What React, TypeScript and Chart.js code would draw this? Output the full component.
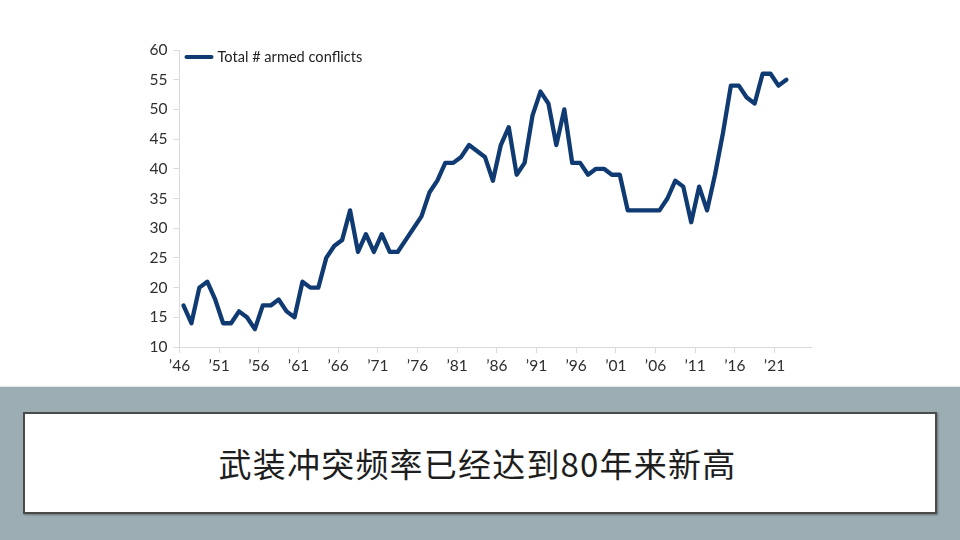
import React, { useEffect, useRef } from "react";
import { Chart, registerables } from "chart.js";

Chart.register(...registerables);

// Annual count of armed conflicts, 1946–2022
const startYear = 1946;
const conflicts = [
  17, 14, 20, 21, 18, 14, 14, 16, 15, 13, // 1946–1955
  17, 17, 18, 16, 15, 21, 20, 20, 25, 27, // 1956–1965
  28, 33, 26, 29, 26, 29, 26, 26, 28, 30, // 1966–1975
  32, 36, 38, 41, 41, 42, 44, 43, 42, 38, // 1976–1985
  44, 47, 39, 41, 49, 53, 51, 44, 50, 41, // 1986–1995
  41, 39, 40, 40, 39, 39, 33, 33, 33, 33, // 1996–2005
  33, 35, 38, 37, 31, 37, 33, 39, 46, 54, // 2006–2015
  54, 52, 51, 56, 56, 54, 55,             // 2016–2022
];
const years = conflicts.map((_, i) => startYear + i);
const seriesLabel = "Total # armed conflicts";
const headline = "武装冲突频率已经达到80年来新高";

// x axis spans yearly slots from '46 to just before '26
const axisSpan = 79.6;
const tickYears = [1946, 1951, 1956, 1961, 1966, 1971, 1976, 1981, 1986, 1991, 1996, 2001, 2006, 2011, 2016, 2021];

const lineColor = "#0f3a72";
const axisColor = "#d9d9d9";
const labelColor = "#2e2e2e";
const tickFont = { family: "Lato, 'Noto Sans', sans-serif", size: 15.5 };

const insideLegend = {
  id: "insideLegend",
  afterDraw(chart: any) {
    const { ctx, chartArea } = chart;
    const ds = chart.data.datasets[0];
    const x0 = chartArea.left + 7;
    const y = chartArea.top + 7;
    ctx.save();
    ctx.strokeStyle = ds.borderColor;
    ctx.lineWidth = 4;
    ctx.lineCap = "round";
    ctx.beginPath();
    ctx.moveTo(x0, y);
    ctx.lineTo(x0 + 25, y);
    ctx.stroke();
    ctx.fillStyle = "#222222";
    ctx.font = "14.6px Lato, 'Noto Sans', sans-serif";
    ctx.textBaseline = "middle";
    ctx.textAlign = "left";
    ctx.fillText(ds.label, x0 + 31, y);
    ctx.restore();
  },
};

function ConflictChart() {
  const ref = useRef<HTMLCanvasElement | null>(null);

  useEffect(() => {
    if (!ref.current) return;
    const points = years.map((yr, i) => ({ x: yr - startYear + 0.5, y: conflicts[i] }));
    const chart = new Chart(ref.current, {
      type: "line",
      data: {
        datasets: [
          {
            label: seriesLabel,
            data: points,
            borderColor: lineColor,
            backgroundColor: lineColor,
            borderWidth: 4.3,
            borderJoinStyle: "round",
            borderCapStyle: "round",
            pointRadius: 0,
            tension: 0,
          },
        ],
      },
      options: {
        responsive: false,
        animation: false,
        layout: { padding: { top: 50, left: 120, right: 149, bottom: 0 } },
        plugins: { legend: { display: false }, tooltip: { enabled: false } },
        scales: {
          x: {
            type: "linear",
            min: 0,
            max: axisSpan,
            afterBuildTicks: (scale: any) => {
              scale.ticks = tickYears.map((yr) => ({ value: yr - startYear }));
            },
            afterFit: (scale: any) => {
              scale.height = 40;
            },
            grid: { drawOnChartArea: false, drawTicks: true, tickLength: 6, color: axisColor },
            border: { display: true, color: axisColor, width: 1 },
            ticks: {
              autoSkip: false,
              maxRotation: 0,
              padding: 4,
              color: labelColor,
              font: tickFont,
              callback: (v: any) => "\u2019" + String((startYear + Number(v)) % 100).padStart(2, "0"),
            },
          },
          y: {
            min: 10,
            max: 60,
            afterFit: (scale: any) => {
              scale.width = 59.5;
            },
            grid: { drawOnChartArea: false, drawTicks: true, tickLength: 6, color: axisColor },
            border: { display: true, color: axisColor, width: 1 },
            ticks: { stepSize: 5, padding: 6, color: labelColor, font: tickFont },
          },
        },
      },
      plugins: [insideLegend],
    });
    return () => chart.destroy();
  }, []);

  return <canvas ref={ref} width={960} height={387} style={{ display: "block", width: 960, height: 387 }} />;
}

export default function App() {
  return (
    <div
      style={{
        position: "absolute",
        left: 0,
        top: 0,
        width: 960,
        height: 540,
        background: "#ffffff",
        overflow: "hidden",
      }}
    >
      <ConflictChart />
      <div
        style={{
          position: "absolute",
          left: 0,
          top: 386,
          width: 960,
          height: 154,
          background: "#9caeb4",
          borderTop: "1px solid #e4e8ea",
        }}
      />
      <div
        style={{
          position: "absolute",
          left: 23,
          top: 412,
          width: 910,
          height: 98,
          background: "#ffffff",
          border: "2px solid #4a4a4a",
          boxShadow: "1px 1px 2px rgba(0,0,0,0.35)",
          display: "flex",
          alignItems: "center",
          justifyContent: "center",
        }}
      >
        <span
          style={{
            fontFamily: "'Noto Sans CJK SC', sans-serif",
            fontSize: 33,
            color: "#1e1e1e",
            letterSpacing: 1.2,
            lineHeight: 1,
            marginLeft: -5,
          }}
        >
          {headline}
        </span>
      </div>
    </div>
  );
}
